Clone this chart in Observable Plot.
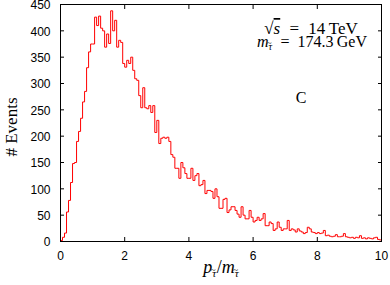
<!DOCTYPE html>
<html>
<head>
<meta charset="utf-8">
<script src="https://cdn.jsdelivr.net/npm/d3@7"></script>
<script src="https://cdn.jsdelivr.net/npm/@observablehq/plot@0.6"></script>
<style>
  html, body { margin: 0; padding: 0; background: #fff; }
  svg { display: block; overflow: visible; }
</style>
</head>
<body>
<div id="chart"></div>
<script>
// Histogram bin width (p/m units) and bin contents
const binWidth = 0.0625;
const counts = [
  2, 8, 16, 56, 78, 112, 148, 150, 190, 209,
  234, 265, 285, 330, 360, 375, 375, 426, 410, 428,
  405, 400, 369, 394, 376, 438, 400, 420, 369, 382,
  378, 338, 331, 344, 338, 350, 325, 309, 306, 277,
  254, 292, 254, 252, 258, 245, 258, 207, 230, 186,
  196, 198, 196, 198, 190, 165, 160, 139, 139, 120,
  150, 140, 129, 120, 120, 139, 116, 125, 129, 106,
  108, 116, 91, 97, 97, 95, 82, 100, 85, 63,
  63, 80, 82, 55, 60, 66, 66, 59, 52, 46,
  66, 50, 43, 43, 59, 46, 37, 40, 46, 40,
  43, 53, 30, 30, 37, 34, 21, 24, 37, 27,
  21, 24, 24, 40, 21, 24, 22, 18, 24, 20,
  18, 15, 17, 27, 24, 18, 17, 15, 17, 15,
  16, 21, 11, 12, 10, 9, 10, 13, 9, 9,
  10, 15, 9, 8, 7, 8, 6, 8, 7, 11,
  6, 7, 5, 7, 6, 5, 7, 8, 4, 3
];
const xTicks = [0, 2, 4, 6, 8, 10];
const yTicks = [0, 50, 100, 150, 200, 250, 300, 350, 400, 450];
const xDomain = [0, 10];
const yDomain = [0, 450];

const steps = counts.map((c, i) => ({x: i * binWidth, y: c}));
steps.push({x: counts.length * binWidth, y: counts[counts.length - 1]});

const W = 390, H = 285;
const plot = Plot.plot({
  width: W,
  height: H,
  marginLeft: 60,
  marginRight: 9,
  marginTop: 4,
  marginBottom: 44,
  style: {fontFamily: "'Liberation Sans', Arial, sans-serif", fontSize: "12px", color: "#000", background: "#fff"},
  x: {domain: xDomain, ticks: xTicks},
  y: {domain: yDomain, ticks: yTicks},
  marks: [
    Plot.line(steps, {x: "x", y: "y", curve: "step-after", stroke: "#ff0000", strokeWidth: 1}),
    Plot.frame({stroke: "#000", strokeWidth: 1}),
    // labels
    Plot.axisY({anchor: "left", ticks: yTicks, tickSize: 0, tickPadding: 10, dy: 1, label: null, fontSize: 12}),
    Plot.axisX({anchor: "bottom", ticks: xTicks, tickSize: 0, tickPadding: 10, label: null, fontSize: 12}),
    // inward ticks on all four sides
    Plot.axisY({anchor: "left", ticks: yTicks, tickSize: 4, dx: 4, tickFormat: () => "", label: null}),
    Plot.axisY({anchor: "right", ticks: yTicks, tickSize: 4, dx: -4, tickFormat: () => "", label: null}),
    Plot.axisX({anchor: "bottom", ticks: xTicks, tickSize: 4, dy: -4, tickFormat: () => "", label: null}),
    Plot.axisX({anchor: "top", ticks: xTicks, tickSize: 4, dy: 4, tickFormat: () => "", label: null})
  ]
});
document.getElementById("chart").appendChild(plot);

const svg = d3.select(plot);
const serif = "'Liberation Serif', 'Times New Roman', serif";

// append a subscript tau with a tilde above it; returns dy back to the main baseline
function tauTilde(t, size, drop) {
  t.append("tspan").attr("font-size", size).attr("font-style", "italic").attr("dy", drop).text("\u03C4");
  t.append("tspan").attr("font-size", size - 2).attr("dx", -(size * 0.5)).attr("dy", -4).text("~");
  return -(drop - 4);
}

// y-axis title
svg.append("text")
  .attr("transform", "translate(17,127) rotate(-90)")
  .attr("text-anchor", "middle")
  .attr("font-family", serif)
  .attr("font-size", 17)
  .attr("fill", "#000")
  .text("# Events");

// x-axis title
const xl = svg.append("text")
  .attr("x", 221).attr("y", 273)
  .attr("text-anchor", "middle")
  .attr("font-family", serif)
  .attr("font-size", 18)
  .attr("fill", "#000");
xl.append("tspan").attr("font-style", "italic").text("p");
let back = tauTilde(xl, 11, 4);
xl.append("tspan").attr("dy", back).attr("dx", 1).text("/");
xl.append("tspan").attr("font-style", "italic").text("m");
tauTilde(xl, 11, 4);

// annotations
const a1 = svg.append("text")
  .attr("x", 311).attr("y", 34)
  .attr("text-anchor", "middle")
  .attr("font-family", serif)
  .attr("font-size", 17)
  .attr("word-spacing", 5)
  .attr("fill", "#000");
a1.append("tspan").text("\u221A");
a1.append("tspan").attr("font-style", "italic").attr("text-decoration", "overline").text("s");
a1.append("tspan").text(" = 14\u2009TeV");

const a2 = svg.append("text")
  .attr("x", 312).attr("y", 47)
  .attr("text-anchor", "middle")
  .attr("font-family", serif)
  .attr("font-size", 16)
  .attr("word-spacing", 4)
  .attr("fill", "#000");
a2.append("tspan").attr("font-style", "italic").text("m");
back = tauTilde(a2, 10, 3);
a2.append("tspan").attr("dy", back).attr("dx", 1).text(" = 174.3\u2009GeV");

svg.append("text")
  .attr("x", 301).attr("y", 103)
  .attr("text-anchor", "middle")
  .attr("font-family", serif)
  .attr("font-size", 16)
  .attr("fill", "#000")
  .text("C");
</script>
</body>
</html>
